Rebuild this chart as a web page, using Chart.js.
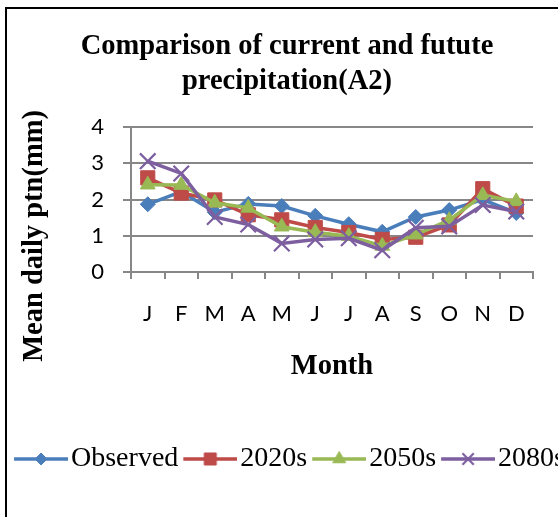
<!DOCTYPE html>
<html>
<head>
<meta charset="utf-8">
<title>Comparison of current and futute precipitation(A2)</title>
<script src="https://cdn.jsdelivr.net/npm/chart.js@4/dist/chart.umd.min.js"></script>
<style>
  html, body { margin: 0; padding: 0; background: #fff; overflow: hidden; width: 558px; height: 517px; }
  #frame { position: absolute; left: 5px; top: 7px; width: 700px; height: 700px; border: 2px solid #000; box-sizing: border-box; }
  #chart { position: absolute; left: 0; top: 0; }
</style>
</head>
<body>
<div id="frame"></div>
<canvas id="chart" width="570" height="517"></canvas>
<script>
// Monthly mean daily precipitation (mm), observed and projected (A2 scenario)
const months   = ['J', 'F', 'M', 'A', 'M', 'J', 'J', 'A', 'S', 'O', 'N', 'D'];
const observed = [1.87, 2.22, 1.65, 1.88, 1.82, 1.55, 1.32, 1.11, 1.52, 1.71, 2.00, 1.63];
const s2020    = [2.60, 2.18, 1.99, 1.58, 1.44, 1.23, 1.09, 0.90, 0.96, 1.30, 2.30, 1.82];
const s2050    = [2.41, 2.40, 1.91, 1.77, 1.25, 1.10, 0.99, 0.72, 1.03, 1.43, 2.12, 1.95];
const s2080    = [3.06, 2.72, 1.52, 1.31, 0.79, 0.90, 0.93, 0.60, 1.22, 1.26, 1.85, 1.67];
const seriesNames = ['Observed', '2020s', '2050s', '2080s'];
const yTicks   = [0, 1, 2, 3, 4];

const TITLE   = ['Comparison of current and futute', 'precipitation(A2)'];
const X_TITLE = 'Month';
const Y_TITLE = 'Mean daily ptn(mm)';

const SERIF = "'Liberation Serif', 'Times New Roman', serif";
const SANS  = "Lato, 'Open Sans', sans-serif";
const GRID  = '#878787';
const COLORS = ['#4A7EBB', '#BE4B48', '#98B954', '#7D5FA0'];

// marker look per series: [style, plot radius, legend radius, border width]
const MARKERS = [
  ['rectRot', 7.5, 6, 1],
  ['rect', 10, 8.5, 1],
  ['triangle', 8.5, 7.5, 1],
  ['crossRot', 11, 8, 2.2]
];

// legend swatch: a short line with the marker in its middle
function swatch(i) {
  const cv = document.createElement('canvas');
  cv.width = 70; cv.height = 24;
  const ctx = cv.getContext('2d');
  ctx.strokeStyle = COLORS[i];
  ctx.fillStyle = COLORS[i];
  ctx.lineWidth = 3.5;
  ctx.beginPath(); ctx.moveTo(16, 12); ctx.lineTo(70, 12); ctx.stroke();
  const [style, , r, bw] = MARKERS[i];
  ctx.lineWidth = bw;
  Chart.helpers.drawPoint(ctx, { pointStyle: style, radius: r, borderWidth: bw, rotation: 0 }, 43, 12);
  return cv;
}
const swatches = seriesNames.map((_, i) => swatch(i));

const values = [observed, s2020, s2050, s2080];
const datasets = values.map((data, i) => ({
  label: seriesNames[i],
  data: data,
  borderColor: COLORS[i],
  backgroundColor: COLORS[i],
  borderWidth: 3.5,
  tension: 0,
  pointStyle: MARKERS[i][0],
  pointRadius: MARKERS[i][1],
  pointBorderWidth: MARKERS[i][3],
  pointBackgroundColor: COLORS[i],
  pointBorderColor: COLORS[i],
  order: values.length - i
}));

// rotated y-axis caption
const yAxisTitle = {
  id: 'yAxisTitle',
  afterDraw(chart) {
    const ctx = chart.ctx;
    ctx.save();
    ctx.translate(35, 236);
    ctx.rotate(-Math.PI / 2);
    ctx.font = 'bold 28.5px ' + SERIF;
    ctx.fillStyle = '#000';
    ctx.textAlign = 'center';
    ctx.textBaseline = 'middle';
    ctx.fillText(Y_TITLE, 0, 0);
    ctx.restore();
  }
};

new Chart(document.getElementById('chart'), {
  type: 'line',
  data: { labels: months, datasets: datasets },
  plugins: [yAxisTitle],
  options: {
    responsive: false,
    animation: false,
    devicePixelRatio: 1,
    layout: { padding: { left: 4, right: 0, top: 0, bottom: 34 } },
    plugins: {
      tooltip: { enabled: false },
      title: {
        display: true,
        text: TITLE,
        color: '#000',
        font: { family: SERIF, size: 28.5, weight: 'bold', lineHeight: 1.23 },
        padding: { top: 29, bottom: 28 }
      },
      legend: {
        position: 'bottom',
        labels: {
          usePointStyle: true,
          pointStyleWidth: 48,
          padding: 0,
          color: '#000',
          font: { family: SERIF, size: 28 },
          sort: (a, b) => a.datasetIndex - b.datasetIndex,
          generateLabels(chart) {
            const items = Chart.defaults.plugins.legend.labels.generateLabels(chart);
            items.forEach(it => { it.pointStyle = swatches[it.datasetIndex]; });
            return items;
          }
        }
      }
    },
    scales: {
      x: {
        offset: true,
        grid: { display: true, drawOnChartArea: false, drawTicks: true, tickLength: 7, offset: true, color: GRID, lineWidth: 2 },
        border: { display: true, color: GRID, width: 2 },
        ticks: { color: '#000', font: { family: SANS, size: 22 }, padding: 22, maxRotation: 0, autoSkip: false },
        title: {
          display: true, text: X_TITLE, color: '#000',
          font: { family: SERIF, size: 28.5, weight: 'bold', lineHeight: 1.2 },
          padding: { top: 0, bottom: 61 }
        },
        afterFit(s) { s.height = 173; }
      },
      y: {
        min: 0, max: 4,
        afterBuildTicks(s) { s.ticks = yTicks.map(v => ({ value: v })); },
        grid: { color: GRID, lineWidth: 2, tickLength: 8, drawTicks: true },
        border: { display: true, color: GRID, width: 2 },
        ticks: { color: '#000', font: { family: SANS, size: 22 }, padding: 19 },
        afterFit(s) { s.width = 127; }
      },
      y2: {
        position: 'right',
        display: true,
        grid: { display: false },
        border: { display: false },
        ticks: { display: false },
        afterFit(s) { s.width = 37; }
      }
    }
  }
});
</script>
</body>
</html>
